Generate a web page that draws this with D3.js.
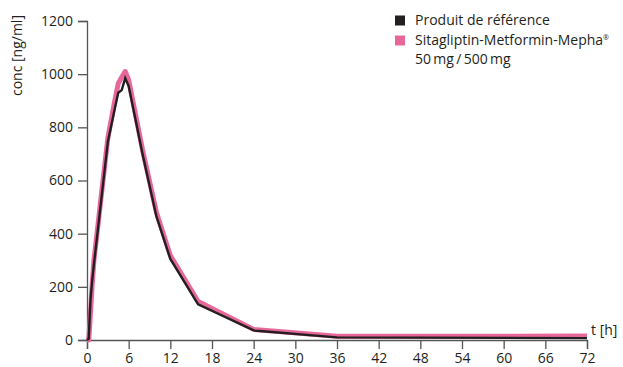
<!DOCTYPE html>
<html>
<head>
<meta charset="utf-8">
<script src="https://cdn.jsdelivr.net/npm/d3@7"></script>
<style>
  html, body { margin: 0; padding: 0; background: #fff; }
  svg { display: block; font-family: "Open Sans", "Noto Sans", sans-serif; }
</style>
</head>
<body>
<svg id="chart" width="623" height="367"></svg>
<script>
// Sampling times in hours
const hours = [0, 0.25, 0.5, 0.75, 1, 2, 3, 4, 4.5, 5, 5.5, 6, 8, 10, 12, 16, 24, 36, 48, 72];
// Mean plasma concentration [ng/ml], reference product
const referenceConc = [0, 5, 150, 225, 285, 515, 745, 870, 930, 940, 985, 955, 700, 465, 305, 134, 36, 10, 9, 7];
// Mean plasma concentration [ng/ml], Sitagliptin-Metformin-Mepha
const mephaConc = [0, 0, 100, 210, 300, 530, 760, 900, 965, 988, 1010, 978, 715, 480, 318, 145, 40, 14, 14, 15];

const xTicks = [0, 6, 12, 18, 24, 30, 36, 42, 48, 54, 60, 66, 72];
const yTicks = [0, 200, 400, 600, 800, 1000, 1200];

const seriesNames = ["Produit de référence", "Sitagliptin-Metformin-Mepha"];
const seriesColors = ["#231f20", "#e8679b"];

const svg = d3.select("#chart");
const plot = { left: 87, right: 587, top: 21, bottom: 340 };

const x = d3.scaleLinear().domain([0, 72]).range([plot.left, plot.right]);
const y = d3.scaleLinear().domain([0, 1200]).range([plot.bottom, plot.top]);

const axisColor = "#555";
const textColor = "#231f20";
const font = "'Open Sans', 'Noto Sans', sans-serif";

// Y axis
const yAxis = svg.append("g")
  .attr("transform", `translate(${plot.left},0)`)
  .call(d3.axisLeft(y).tickValues(yTicks).tickSize(9).tickPadding(5).tickFormat(d3.format("d")));
yAxis.select(".domain").attr("stroke", axisColor).attr("stroke-width", 1.3);
yAxis.selectAll(".tick line").attr("stroke", axisColor).attr("stroke-width", 1.3);
yAxis.selectAll(".tick text")
  .attr("fill", textColor)
  .style("font-size", "14px")
  .style("font-family", font);

// X axis (labels tucked against the bottom edge)
const xAxis = svg.append("g")
  .attr("transform", `translate(0,${plot.bottom})`)
  .call(d3.axisBottom(x).tickValues(xTicks).tickSize(9).tickPadding(4).tickFormat(d3.format("d")));
xAxis.select(".domain").attr("stroke", axisColor).attr("stroke-width", 1.3);
xAxis.selectAll(".tick line").attr("stroke", axisColor).attr("stroke-width", 1.3);
xAxis.selectAll(".tick text")
  .attr("fill", textColor)
  .style("font-size", "14px")
  .style("font-family", font);

// Axis titles
svg.append("text")
  .attr("transform", `translate(22,15) rotate(-90)`)
  .attr("text-anchor", "end")
  .attr("fill", textColor)
  .style("font-size", "14px")
  .text("conc [ng/ml]");

svg.append("text")
  .attr("x", 591)
  .attr("y", 335)
  .attr("fill", textColor)
  .style("font-size", "14px")
  .text("t [h]");

// Concentration curves
const line = d3.line()
  .x((d, i) => x(hours[i]))
  .y(d => y(d));

svg.append("path")
  .datum(mephaConc)
  .attr("d", line)
  .attr("fill", "none")
  .attr("stroke", seriesColors[1])
  .attr("stroke-width", 5)
  .attr("stroke-linejoin", "round");

svg.append("path")
  .datum(referenceConc)
  .attr("d", line)
  .attr("fill", "none")
  .attr("stroke", seriesColors[0])
  .attr("stroke-width", 2.4)
  .attr("stroke-linejoin", "miter");

// Legend
const legend = svg.append("g").attr("transform", "translate(395,0)");
legend.append("rect").attr("x", 0).attr("y", 15.5).attr("width", 10).attr("height", 10).attr("fill", seriesColors[0]);
legend.append("text").attr("x", 20).attr("y", 24.5).attr("fill", textColor).style("font-size", "14px").text(seriesNames[0]);

legend.append("rect").attr("x", 0).attr("y", 35.5).attr("width", 10).attr("height", 10).attr("fill", seriesColors[1]);
const t2 = legend.append("text").attr("x", 20).attr("y", 44.5).attr("fill", textColor).style("font-size", "14px");
t2.append("tspan").text(seriesNames[1]);
t2.append("tspan").attr("dy", -5).style("font-size", "7px").text("®");
legend.append("text").attr("x", 20).attr("y", 64).attr("fill", textColor).style("font-size", "14px")
  .text("50\u2009mg\u2009/\u2009500\u2009mg");
</script>
</body>
</html>
